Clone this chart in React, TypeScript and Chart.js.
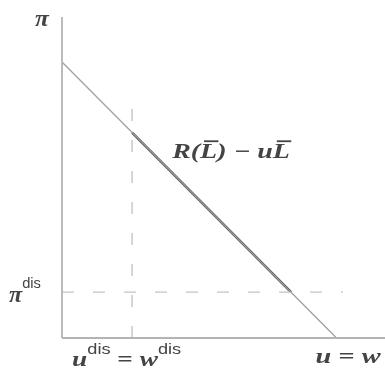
import { useEffect, useRef } from "react";
import { Chart, registerables } from "chart.js";
Chart.register(...registerables);

// Axis ranges (abstract units)
const X_MIN = 0;
const X_MAX = 10;
const Y_MIN = 0;
const Y_MAX = 10;

// Values
const profitIntercept = 8.6; // π when u = 0
const wageW = 8.5; // u = w where π = 0
const uDis = 2.17; // u^dis = w^dis
const piAtUDis = 6.4; // π on the line at u^dis
const piDis = 1.43; // π^dis
const uAtPiDis = 7.09; // u on the line at π^dis
const vDashTop = 7.5;
const hDashEnd = 8.7;

const lineXs = [0, wageW];
const lineYs = [profitIntercept, 0];
const boldXs = [uDis, uAtPiDis];
const boldYs = [piAtUDis, piDis];
const vDashXs = [uDis, uDis];
const vDashYs = [Y_MIN, vDashTop];
const hDashXs = [X_MIN, hDashEnd];
const hDashYs = [piDis, piDis];
const yAxisXs = [X_MIN, X_MIN];
const yAxisYs = [Y_MIN, Y_MAX];
const xAxisXs = [X_MIN, X_MAX];
const xAxisYs = [Y_MIN, Y_MIN];

// Label texts
const yAxisLabel = "π";
const piDisLabel = ["π", "dis"];
const uDisLabel = ["u", "dis", " = ", "w", "dis"];
const uwLabel = ["u", " = ", "w"];
const curveLabel = ["R(", "L", ") − u", "L"];

const pts = (xs: number[], ys: number[]) => xs.map((x, i) => ({ x, y: ys[i] }));

const SERIF_I = "bold italic 21px 'Liberation Serif'";
const SERIF_PI = "bold italic 23px 'Liberation Serif'";
const SERIF_R = "bold 21px 'Liberation Serif'";
const SUP = "14px 'Liberation Sans'";
const TXT = "#444444";

type Run = { t: string; font: string; dy?: number; bar?: boolean };

function drawRuns(ctx: CanvasRenderingContext2D, x: number, y: number, runs: Run[], sx: number) {
  ctx.save();
  ctx.translate(x, y);
  ctx.scale(sx, 1);
  ctx.fillStyle = TXT;
  ctx.strokeStyle = TXT;
  ctx.textBaseline = "alphabetic";
  let cx = 0;
  for (const r of runs) {
    ctx.font = r.font;
    ctx.fillText(r.t, cx, r.dy || 0);
    const w = ctx.measureText(r.t).width;
    if (r.bar) {
      ctx.lineWidth = 1.8;
      ctx.beginPath();
      ctx.moveTo(cx + 3, -17);
      ctx.lineTo(cx + w + 1, -17);
      ctx.stroke();
    }
    cx += w;
  }
  ctx.restore();
}

const labelPlugin = {
  id: "labels",
  afterDatasetsDraw(chart: any) {
    const { ctx, scales } = chart;
    const xs = scales.x;
    const ys = scales.y;
    const px0 = xs.getPixelForValue(X_MIN);
    const pyTop = ys.getPixelForValue(Y_MAX);
    const pyBase = ys.getPixelForValue(Y_MIN);
    // π at top of y axis
    drawRuns(ctx, px0 - 27, pyTop + 9, [{ t: yAxisLabel, font: SERIF_PI }], 1.1);
    // π^dis
    drawRuns(
      ctx,
      px0 - 53,
      ys.getPixelForValue(piDis) + 10,
      [
        { t: piDisLabel[0], font: SERIF_PI },
        { t: piDisLabel[1], font: SUP, dy: -14 },
      ],
      1.05
    );
    // u^dis = w^dis
    drawRuns(
      ctx,
      xs.getPixelForValue(uDis) - 60,
      pyBase + 28,
      [
        { t: uDisLabel[0], font: SERIF_I },
        { t: uDisLabel[1], font: SUP, dy: -12 },
        { t: uDisLabel[2], font: SERIF_R },
        { t: uDisLabel[3], font: SERIF_I },
        { t: uDisLabel[4], font: SUP, dy: -12 },
      ],
      1.3
    );
    // u = w
    drawRuns(
      ctx,
      xs.getPixelForValue(wageW) - 21,
      pyBase + 25,
      [
        { t: uwLabel[0], font: SERIF_I },
        { t: uwLabel[1], font: SERIF_R },
        { t: uwLabel[2], font: SERIF_I },
      ],
      1.35
    );
    // R(L̄) − uL̄
    drawRuns(
      ctx,
      xs.getPixelForValue(3.41),
      ys.getPixelForValue(5.6),
      [
        { t: curveLabel[0], font: SERIF_I },
        { t: curveLabel[1], font: SERIF_I, bar: true },
        { t: curveLabel[2], font: SERIF_I },
        { t: curveLabel[3], font: SERIF_I, bar: true },
      ],
      1.33
    );
  },
};

export default function App() {
  const ref = useRef<HTMLCanvasElement>(null);
  useEffect(() => {
    document.body.style.margin = "0";
    const chart = new Chart(ref.current!, {
      type: "scatter",
      data: {
        datasets: [
          { data: pts(yAxisXs, yAxisYs), showLine: true, borderColor: "#b4b4b4", borderWidth: 1.8, pointRadius: 0, clip: false as any },
          { data: pts(xAxisXs, xAxisYs), showLine: true, borderColor: "#b4b4b4", borderWidth: 1.8, pointRadius: 0, clip: false as any },
          { data: pts(vDashXs, vDashYs), showLine: true, borderColor: "#c4c4c4", borderWidth: 1.4, borderDash: [12, 19], pointRadius: 0, clip: false as any },
          { data: pts(hDashXs, hDashYs), showLine: true, borderColor: "#c4c4c4", borderWidth: 1.4, borderDash: [12, 19], pointRadius: 0, clip: false as any },
          { data: pts(lineXs, lineYs), showLine: true, borderColor: "#a0a0a0", borderWidth: 1.3, pointRadius: 0, clip: false as any },
          { data: pts(boldXs, boldYs), showLine: true, borderColor: "#3c3c3c", borderWidth: 2.4, pointRadius: 0, clip: false as any },
        ],
      },
      options: {
        animation: false,
        responsive: true,
        maintainAspectRatio: false,
        layout: { padding: { left: 62, right: 0, top: 17, bottom: 35 } },
        scales: {
          x: { type: "linear", min: X_MIN, max: X_MAX, display: false },
          y: { type: "linear", min: Y_MIN, max: Y_MAX, display: false },
        },
        plugins: { legend: { display: false }, tooltip: { enabled: false } },
      },
      plugins: [labelPlugin],
    });
    return () => chart.destroy();
  }, []);
  return (
    <div style={{ position: "fixed", left: 0, top: 0, width: 385, height: 373, background: "#fff" }}>
      <canvas ref={ref} />
    </div>
  );
}
